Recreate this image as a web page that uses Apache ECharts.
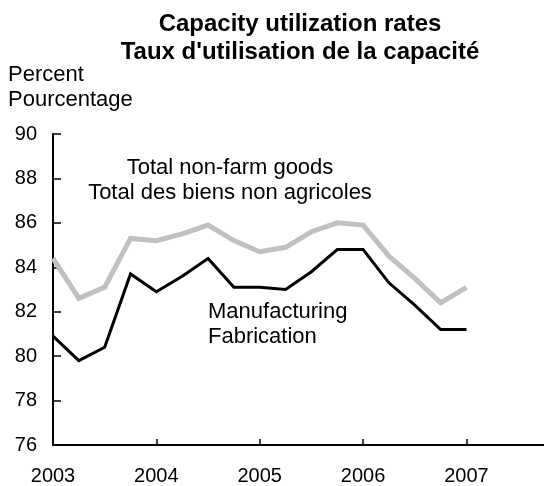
<!DOCTYPE html>
<html>
<head>
<meta charset="utf-8">
<script src="https://cdn.jsdelivr.net/npm/echarts@6/dist/echarts.min.js"></script>
<style>html,body{margin:0;padding:0;background:#fff}#c{width:544px;height:486px}</style>
</head>
<body>
<div id="c"></div>
<script>
// Quarterly periods, 2003 Q1 .. 2007 Q1
var periods = [2003.00, 2003.25, 2003.50, 2003.75, 2004.00, 2004.25, 2004.50, 2004.75,
               2005.00, 2005.25, 2005.50, 2005.75, 2006.00, 2006.25, 2006.50, 2006.75, 2007.00];
var totalNonFarm = [84.4, 82.6, 83.1, 85.3, 85.2, 85.5, 85.9, 85.2,
                    84.7, 84.9, 85.6, 86.0, 85.9, 84.5, 83.5, 82.4, 83.1];
var manufacturing = [80.9, 79.8, 80.4, 83.7, 82.9, 83.6, 84.4, 83.1,
                     83.1, 83.0, 83.8, 84.8, 84.8, 83.3, 82.3, 81.2, 81.2];
var yTicks = [76, 78, 80, 82, 84, 86, 88, 90];
var xTicks = [2003, 2004, 2005, 2006, 2007];

function pairs(xs, ys) { return xs.map(function (x, i) { return [x, ys[i]]; }); }

var FONT = '"Liberation Sans", Arial, sans-serif';
var chart = echarts.init(document.getElementById('c'), null, { renderer: 'canvas' });
chart.setOption({
  animation: false,
  backgroundColor: '#fff',
  grid: { left: 53, right: -3, top: 134, bottom: 39, containLabel: false },
  xAxis: {
    type: 'value', min: xTicks[0], max: 2007.75, interval: 1,
    axisLine: { show: true, lineStyle: { color: '#000', width: 2 } },
    axisTick: { show: true, inside: true, length: 6, lineStyle: { color: '#000', width: 1.5 } },
    axisLabel: {
      show: true, margin: 21, fontFamily: FONT, fontSize: 20, color: '#000',
      showMaxLabel: false,
      formatter: function (v) { return xTicks.indexOf(v) >= 0 ? String(v) : ''; }
    },
    splitLine: { show: false }
  },
  yAxis: {
    type: 'value', min: yTicks[0], max: yTicks[yTicks.length - 1], interval: 2,
    axisLine: { show: true, lineStyle: { color: '#000', width: 2 } },
    axisTick: { show: true, inside: true, length: 8, lineStyle: { color: '#000', width: 1.5 } },
    axisLabel: { margin: 16, fontFamily: FONT, fontSize: 20, color: '#000' },
    splitLine: { show: false }
  },
  series: [
    {
      name: 'Total non-farm goods', type: 'line', data: pairs(periods, totalNonFarm),
      symbol: 'none', lineStyle: { color: '#c0c0c0', width: 5, join: 'miter' }, z: 2
    },
    {
      name: 'Manufacturing', type: 'line', data: pairs(periods, manufacturing),
      symbol: 'none', lineStyle: { color: '#000', width: 3, join: 'miter' }, z: 3
    }
  ],
  graphic: [
    { type: 'text', x: 300, y: 38, style: { text: 'Capacity utilization rates\nTaux d\'utilisation de la capacité', font: 'bold 24px ' + FONT, fill: '#000', align: 'center', verticalAlign: 'middle', lineHeight: 28 } },
    { type: 'text', x: 8, y: 87, style: { text: 'Percent\nPourcentage', font: '22px ' + FONT, fill: '#000', verticalAlign: 'middle', lineHeight: 25 } },
    { type: 'text', x: 230, y: 180, style: { text: 'Total non-farm goods\nTotal des biens non agricoles', font: '22px ' + FONT, fill: '#000', align: 'center', verticalAlign: 'middle', lineHeight: 25 } },
    { type: 'text', x: 208, y: 324, style: { text: 'Manufacturing\nFabrication', font: '22px ' + FONT, fill: '#000', align: 'left', verticalAlign: 'middle', lineHeight: 25 } }
  ]
});
</script>
</body>
</html>
